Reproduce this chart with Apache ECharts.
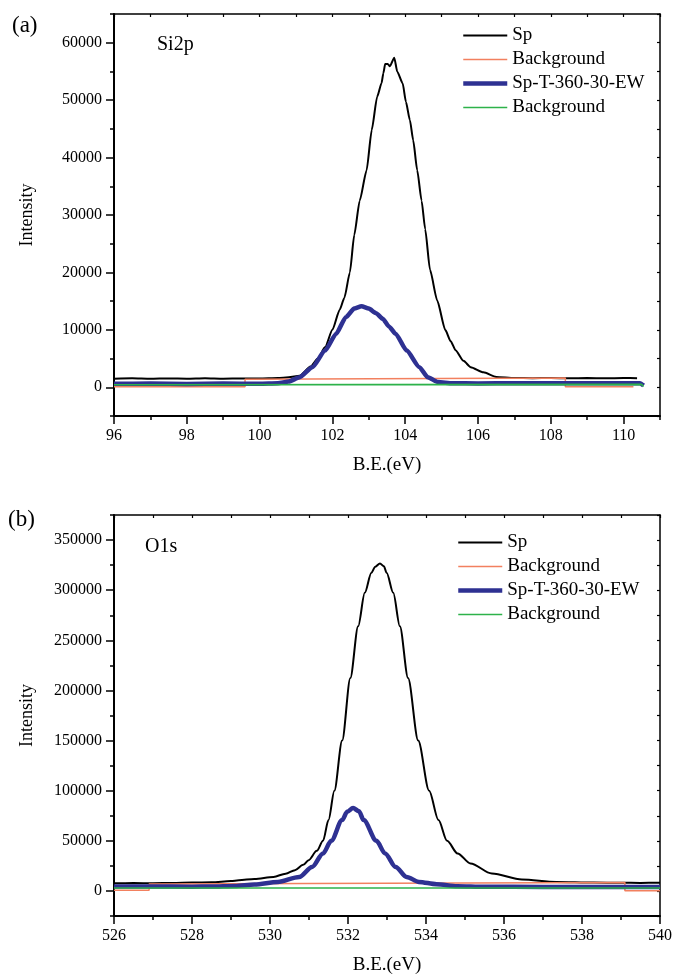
<!DOCTYPE html>
<html>
<head>
<meta charset="utf-8">
<style>
html,body{margin:0;padding:0;background:#fff;}
#chart{width:673px;height:975px;}
</style>
<script src="https://cdn.jsdelivr.net/npm/echarts@6/dist/echarts.min.js"></script>
</head>
<body>
<div id="chart"></div>
<script>
// ---------- DATA ----------
const seriesNames = ['Sp', 'Background', 'Sp-T-360-30-EW', 'Background '];
const panelLabels = ['(a)', '(b)'];
const peakLabels = ['Si2p', 'O1s'];
const xAxisName = 'B.E.(eV)';
const yAxisName = 'Intensity';

// Si2p panel [B.E., intensity]
const siSp = [[96.0,1500],[96.5,1560],[97.0,1480],[97.5,1550],[98.0,1500],[98.5,1580],[99.0,1490],[99.5,1540],[100.0,1520],[100.5,1600],[100.8,1750],[101.1,2000],[101.4,3600],[101.6,5000],[101.8,7000],[102.0,10000],[102.2,13500],[102.33,15600],[102.48,20000],[102.6,26500],[102.75,32500],[102.94,37800],[103.08,44800],[103.23,50600],[103.35,52950],[103.4,54700],[103.45,56300],[103.52,56300],[103.58,55900],[103.7,57400],[103.78,55000],[103.93,52950],[104.02,49700],[104.13,46500],[104.22,43000],[104.33,37800],[104.45,32500],[104.55,27500],[104.68,20500],[104.88,15100],[105.1,10000],[105.25,8000],[105.39,6400],[105.6,4600],[105.8,3500],[106.15,2600],[106.5,1800],[107.0,1620],[107.5,1580],[108.0,1620],[108.5,1560],[109.0,1600],[109.5,1570],[110.0,1610],[110.37,1580]];
const siBg = [[96,100],[99.6,100],[99.6,1400],[108.4,1600],[108.4,100],[110.27,100]];
const siT = [[96,600],[97,650],[98,580],[99,640],[100,620],[100.5,700],[100.8,1000],[101.1,1750],[101.45,3500],[101.8,6400],[102.1,9300],[102.37,12200],[102.6,13700],[102.8,14100],[103.0,13700],[103.2,12900],[103.39,11900],[103.55,10600],[103.74,9300],[104.04,6400],[104.39,3500],[104.62,1750],[104.9,900],[105.3,700],[106,680],[107,720],[108,690],[109,710],[110,700],[110.45,720],[110.55,300]];
const siBg2 = [[96,450],[110.5,500],[110.55,150]];

// O1s panel [B.E., intensity]
const oSp = [[526,7700],[526.5,7800],[527,7750],[527.5,7900],[528,8300],[528.5,8700],[529,9800],[529.2,10700],[529.6,12000],[530.09,14000],[530.4,17200],[530.64,20700],[530.85,26000],[530.99,30700],[531.2,40000],[531.36,50000],[531.5,70700],[531.65,100000],[531.85,150000],[532.06,212400],[532.26,264000],[532.43,297400],[532.6,317400],[532.7,323500],[532.82,326700],[532.92,323800],[532.99,317400],[533.16,297400],[533.33,264000],[533.54,212400],[533.8,150000],[534.08,100000],[534.32,70700],[534.54,50000],[534.81,37400],[535.14,27400],[535.69,17400],[536.46,11400],[537.34,9000],[538.3,8300],[539,8100],[539.5,8000],[540,8200]];
const oBg = [[526,600],[526.9,600],[526.9,7000],[539.1,8400],[539.1,200],[540,200]];
const oT = [[526,4500],[527,4400],[528,4300],[528.5,4400],[529.1,5000],[529.6,6500],[530.2,9000],[530.75,14000],[531.08,24000],[531.36,37400],[531.57,50000],[531.85,70700],[531.98,79000],[532.13,82700],[532.28,79500],[532.4,70700],[532.73,50000],[532.95,37400],[533.22,24000],[533.5,14000],[533.82,9000],[534.27,6700],[534.8,4800],[535.5,4200],[537,4000],[538.5,4000],[540,4000]];
const oBg2 = [[526,3000],[540,3000]];

const xRangeA = [96, 111];
const xMajorA = [96, 98, 100, 102, 104, 106, 108, 110];
const yRangeA = [-5000, 65000];
const yMajorA = [0, 10000, 20000, 30000, 40000, 50000, 60000];
const xRangeB = [526, 540];
const xMajorB = [526, 528, 530, 532, 534, 536, 538, 540];
const yRangeB = [-25000, 375000];
const yMajorB = [0, 50000, 100000, 150000, 200000, 250000, 300000, 350000];

// ---------- STYLE ----------
const FONT = 'Liberation Serif';
const colors = ['#000000', '#f2805f', '#2e3192', '#2db24a'];
const widths = [2, 1.5, 4.5, 1.6];

const grids = [
  {left: 114, top: 14, width: 546, height: 402},
  {left: 114, top: 515, width: 546, height: 401}
];

function xAxes(gi, range, major) {
  const base = {gridIndex: gi, type: 'value', min: range[0], max: range[1], splitLine: {show: false}};
  return [
    Object.assign({}, base, {
      position: 'bottom', interval: 1,
      axisLine: {show: true, onZero: false, lineStyle: {color: '#000', width: 2}},
      axisTick: {show: true, inside: false, length: 4, lineStyle: {color: '#000', width: 1.5}},
      axisLabel: {show: true, margin: 12, color: '#000', fontFamily: FONT, fontSize: 16,
        formatter: v => (major.indexOf(v) >= 0 ? String(v) : '')},
      name: xAxisName, nameLocation: 'middle', nameGap: 40,
      nameTextStyle: {color: '#000', fontFamily: FONT, fontSize: 19}
    }),
    Object.assign({}, base, {
      position: 'bottom', interval: 1,
      axisLine: {show: false, onZero: false},
      axisTick: {show: true, inside: false, length: 8, customValues: major, lineStyle: {color: '#000', width: 1.5}},
      axisLabel: {show: false}
    }),
    Object.assign({}, base, {
      position: 'top', interval: 1,
      axisLine: {show: true, onZero: false, lineStyle: {color: '#000', width: 1.5}},
      axisTick: {show: true, inside: true, length: 3, lineStyle: {color: '#000', width: 1.2}},
      axisLabel: {show: false}
    })
  ];
}
function yAxes(gi, range, major, step) {
  const base = {gridIndex: gi, type: 'value', min: range[0], max: range[1], interval: step, splitLine: {show: false}};
  return [
    Object.assign({}, base, {
      position: 'left',
      axisLine: {show: true, onZero: false, lineStyle: {color: '#000', width: 2}},
      axisTick: {show: true, inside: false, length: 4, lineStyle: {color: '#000', width: 1.5}},
      axisLabel: {show: true, margin: 12, color: '#000', fontFamily: FONT, fontSize: 16,
        formatter: v => (major.indexOf(v) >= 0 ? String(v) : '')},
      name: yAxisName, nameLocation: 'middle', nameGap: 78,
      nameTextStyle: {color: '#000', fontFamily: FONT, fontSize: 18}
    }),
    Object.assign({}, base, {
      position: 'left',
      axisLine: {show: false, onZero: false},
      axisTick: {show: true, inside: false, length: 8, customValues: major, lineStyle: {color: '#000', width: 1.5}},
      axisLabel: {show: false}
    }),
    Object.assign({}, base, {
      position: 'right',
      axisLine: {show: true, onZero: false, lineStyle: {color: '#000', width: 1.5}},
      axisTick: {show: true, inside: true, length: 3, lineStyle: {color: '#000', width: 1.2}},
      axisLabel: {show: false}
    })
  ];
}

function mkSeries(axisIdx, datasets, smooth) {
  return datasets.map((d, i) => ({
    type: 'line', name: seriesNames[i], data: d,
    xAxisIndex: axisIdx, yAxisIndex: axisIdx,
    symbol: 'none', showSymbol: false,
    smooth: (i === 0 || i === 2) ? smooth : false,
    smoothMonotone: 'x',
    lineStyle: {color: colors[i], width: widths[i]},
    itemStyle: {color: colors[i]},
    z: 2 + i
  }));
}

function mkLegend(left, top) {
  return {
    orient: 'vertical', left: left, top: top,
    itemWidth: 44, itemHeight: 14, itemGap: 5,
    selectedMode: false,
    data: seriesNames,
    textStyle: {color: '#000', fontFamily: FONT, fontSize: 19, lineHeight: 19},
    lineStyle: {width: 'inherit'},
    itemStyle: {opacity: 0, borderWidth: 0}
  };
}

const chart = echarts.init(document.getElementById('chart'), null, {renderer: 'canvas'});
chart.setOption({
  animation: false,
  backgroundColor: '#fff',
  grid: grids.map(g => Object.assign({outerBoundsMode: 'none', containLabel: false}, g)),
  xAxis: xAxes(0, xRangeA, xMajorA).concat(xAxes(1, xRangeB, xMajorB)),
  yAxis: yAxes(0, yRangeA, yMajorA, 5000).concat(yAxes(1, yRangeB, yMajorB, 25000)),
  legend: [mkLegend(456, 21), mkLegend(451, 528)],
  series: mkSeries(0, [siSp, siBg, siT, siBg2], 0.2).concat(mkSeries(3, [oSp, oBg, oT, oBg2], 0.3)),
  graphic: [
    {type: 'text', left: 12, top: 14, style: {text: panelLabels[0], font: '23px "Liberation Serif"', fill: '#000'}},
    {type: 'text', left: 8, top: 508, style: {text: panelLabels[1], font: '23px "Liberation Serif"', fill: '#000'}},
    {type: 'text', left: 157, top: 35, style: {text: peakLabels[0], font: '20px "Liberation Serif"', fill: '#000'}},
    {type: 'text', left: 145, top: 537, style: {text: peakLabels[1], font: '20px "Liberation Serif"', fill: '#000'}}
  ]
});
</script>
</body>
</html>
